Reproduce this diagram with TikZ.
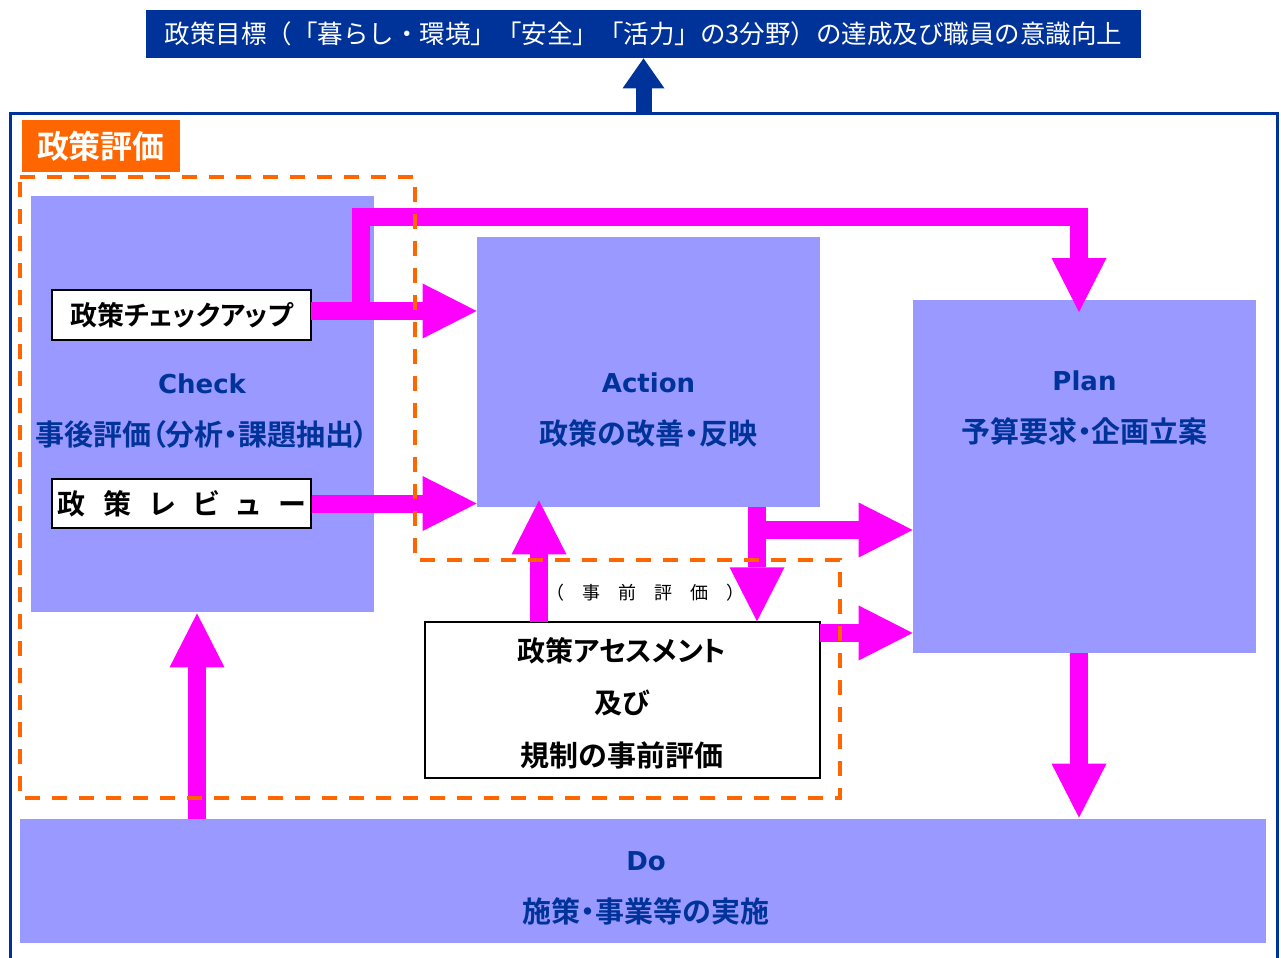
\documentclass[tikz,border=0pt]{standalone}
\usepackage{fontspec}
\newfontfamily\jp{Noto Sans CJK JP}
\newfontfamily\jpb{Noto Sans CJK JP Bold}[RawFeature=+palt]
\newfontfamily\latinb{DejaVu Sans Bold}
\usetikzlibrary{arrows.meta}

\definecolor{goalblue}{HTML}{003399}
\definecolor{boxblue}{HTML}{9999FF}
\definecolor{evalorange}{HTML}{FF6600}
\definecolor{arrowpink}{HTML}{FF00FF}

\newcommand{\pdcaword}[1]{{\latinb\fontsize{13}{26}\selectfont #1}}

\tikzset{
  pdca/.style={fill=boxblue, inner sep=0pt},
  pdcatext/.style={align=center, text=goalblue, font=\jpb\fontsize{14.5}{26}\selectfont},
  whitebox/.style={draw=black, line width=.75pt, fill=white, inner sep=0pt, align=center,
    font=\jpb\fontsize{14}{26}\selectfont},
  fatarrow/.style={draw=arrowpink, line width=9pt,
    -{Triangle[width=27.5pt,length=27pt,line width=0pt]}},
  evaldash/.style={draw=evalorange, line width=2pt, dash pattern=on 7.5pt off 6pt}
}

\begin{document}
\begin{tikzpicture}[x=0.5pt,y=-0.5pt]
  \clip (0,0) rectangle (1281,958);

  % outer frame and goal
  \node[draw=goalblue, line width=1.5pt, minimum width=633.5pt, minimum height=425pt,
    inner sep=0pt] (frame) at (643.5,538) {};
  \node[fill=goalblue, text=white, minimum width=497.5pt, minimum height=24pt, inner sep=0pt,
    font=\jp\fontsize{12.75}{15}\selectfont] (goal) at (643.5,34)
    {政策目標（「暮らし・環境」「安全」「活力」の3分野）の達成及び職員の意識向上};
  \draw[draw=goalblue, line width=8pt, -{Triangle[width=21pt,length=15pt,line width=0pt]}]
    (goal.south |- frame.north) -- (goal.south);

  \node[fill=evalorange, text=white, minimum width=79pt, minimum height=26pt, inner sep=0pt,
    font=\jpb\fontsize{16}{18}\selectfont] (evallabel) at (101,146) {政策評価};

  % PDCA boxes
  \node[pdca, minimum width=171.5pt, minimum height=208pt] (check) at (202.5,404) {};
  \node[pdca, minimum width=171.5pt, minimum height=135pt] (action) at (648.5,372) {};
  \node[pdca, minimum width=171.5pt, minimum height=176.5pt] (plan) at (1084.5,476.5) {};
  \node[pdca, minimum width=623pt, minimum height=62pt] (do) at (643,881) {};

  \node[pdcatext] (checktext) at (202,411) {\pdcaword{Check}\\事後評価（分析・課題抽出）};
  \node[pdcatext] (actiontext) at (648.5,410) {\pdcaword{Action}\\政策の改善・反映};
  \node[pdcatext] (plantext) at (1084.5,408) {\pdcaword{Plan}\\予算要求・企画立案};
  \node[pdcatext] (dotext) at (646,888) {\pdcaword{Do}\\施策・事業等の実施};

  % evaluation boxes
  \node[whitebox, minimum width=129.5pt, minimum height=25pt,
    font=\jpb\fontsize{13.5}{26}\selectfont] (chkup) at (181.5,315) {政策チェックアップ};
  \node[whitebox, minimum width=129.5pt, minimum height=24.5pt] (review) at (181.5,503.5)
    {政\hspace{9pt}策\hspace{9pt}レ\hspace{9pt}ビ\hspace{9pt}ュ\hspace{9pt}ー};
  \node[whitebox, minimum width=197.5pt, minimum height=78pt] (assess) at (622.5,700) {};
  \node[align=center, font=\jpb\fontsize{14}{26.3}\selectfont] (assesstext) at (622,703)
    {政策アセスメント\\及び\\{\fontsize{14.5}{26.3}\selectfont 規制の事前評価}};
  \node[font=\jp\fontsize{9}{11}\selectfont] (prior) at (645,593)
    {（　事　前　評　価　）};

  % arrows
  \coordinate (chkturn) at (361,217);
  \coordinate (planin) at (1079,312);
  \coordinate (chkout) at (311,311);
  \coordinate (asmtup) at (539,622);
  \coordinate (actfork) at (757,507);
  \coordinate (actbranch) at (757,530);
  \coordinate (asmtright) at (820,633);
  \coordinate (planout) at (1079,653);
  \coordinate (doout) at (197,819);

  \draw[fatarrow] (chkout) -- (chkout -| action.west);
  \draw[fatarrow] (chkout -| chkturn) -- (chkturn) -| (planin);
  \draw[fatarrow] (review.east) -- (review.east -| action.west);
  \draw[fatarrow] (asmtup) -- ([yshift=3.5pt]asmtup |- action.south);
  \draw[fatarrow] (actfork) -- (actfork |- assess.north);
  \draw[fatarrow] (actbranch) -- (actbranch -| plan.west);
  \draw[fatarrow] (asmtright) -- (asmtright -| plan.west);
  \draw[fatarrow] (planout) -- ([yshift=.5pt]planout |- do.north);
  \draw[fatarrow] (doout) -- ([yshift=-.5pt]doout |- check.south);

  % evaluation area
  \draw[evaldash] (20,177) -- (415,177) -- (415,560) -- (840,560) -- (840,798)
    -- (20,798) -- cycle;
\end{tikzpicture}
\end{document}
